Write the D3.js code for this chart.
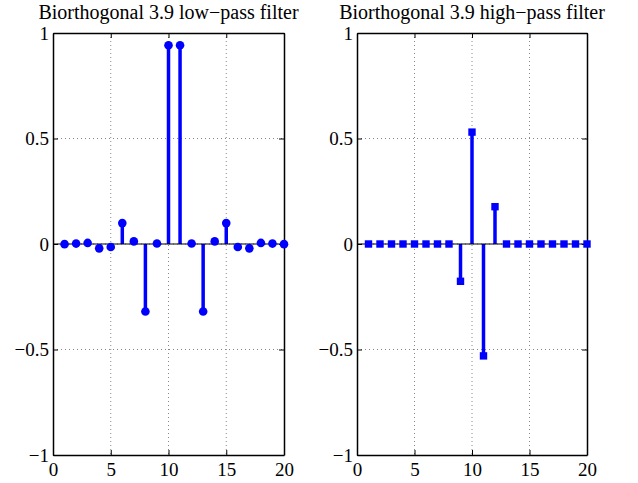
<!DOCTYPE html>
<html>
<head>
<meta charset="utf-8">
<script src="https://cdn.jsdelivr.net/npm/d3@7"></script>
<style>
  body { margin: 0; background: #fff; }
  text { font-family: "Liberation Serif", "DejaVu Serif", serif; fill: #000; }
</style>
</head>
<body>
<div id="chart"></div>
<script>
// filter taps, index 1..20
const taps = d3.range(1, 21)
const lowPass = [-0.0007, 0.0020, 0.0051, -0.0206, -0.0141, 0.0991, 0.0123, -0.3202, 0.0021, 0.9421,
  0.9421, 0.0021, -0.3202, 0.0123, 0.0991, -0.0141, -0.0206, 0.0051, 0.0020, -0.0007]
const highPass = [0, 0, 0, 0, 0, 0, 0, 0, -0.1768, 0.5303,
  -0.5303, 0.1768, 0, 0, 0, 0, 0, 0, 0, 0]
const titles = ['Biorthogonal 3.9 low\u2212pass filter', 'Biorthogonal 3.9 high\u2212pass filter']
const xTicks = [0, 5, 10, 15, 20]
const yTicks = [-1, -0.5, 0, 0.5, 1]
const yTickLabels = ['\u22121', '\u22120.5', '0', '0.5', '1']

const w = 638
const h = 483
const blue = '#0000ff'

const svg = d3.select('#chart')
  .append('svg')
  .attr('width', w)
  .attr('height', h)

const drawPanel = (left, right, values, title, marker) => {
  const top = 33
  const bottom = 455

  const x = d3.scaleLinear().domain([0, 20]).range([left, right])
  const y = d3.scaleLinear().domain([-1, 1]).range([bottom, top])

  const g = svg.append('g')

  // dotted grid
  g.selectAll('.gx')
    .data(xTicks.slice(1, -1))
    .enter()
    .append('line')
    .attr('x1', d => x(d)).attr('x2', d => x(d))
    .attr('y1', top).attr('y2', bottom)
    .attr('stroke', '#888')
    .attr('stroke-width', 1)
    .attr('stroke-dasharray', '1,3')
  g.selectAll('.gy')
    .data(yTicks.slice(1, -1))
    .enter()
    .append('line')
    .attr('x1', left).attr('x2', right)
    .attr('y1', d => y(d)).attr('y2', d => y(d))
    .attr('stroke', '#888')
    .attr('stroke-width', 1)
    .attr('stroke-dasharray', '1,3')

  // axes with inner ticks
  const xAxisB = d3.axisBottom(x).tickValues(xTicks).tickSizeInner(-5).tickSizeOuter(0).tickPadding(8)
  const xAxisT = d3.axisTop(x).tickValues(xTicks).tickSizeInner(-5).tickSizeOuter(0).tickFormat('')
  const yAxisL = d3.axisLeft(y).tickValues(yTicks).tickSizeInner(-5).tickSizeOuter(0).tickPadding(4)
    .tickFormat((d, i) => yTickLabels[i])
  const yAxisR = d3.axisRight(y).tickValues(yTicks).tickSizeInner(-5).tickSizeOuter(0).tickFormat('')

  const axes = [
    g.append('g').attr('transform', 'translate(0,' + bottom + ')').call(xAxisB),
    g.append('g').attr('transform', 'translate(0,' + top + ')').call(xAxisT),
    g.append('g').attr('transform', 'translate(' + left + ',0)').call(yAxisL),
    g.append('g').attr('transform', 'translate(' + right + ',0)').call(yAxisR)
  ]
  axes.forEach(a => {
    a.select('.domain').attr('stroke', '#000').attr('stroke-width', 1.5)
    a.selectAll('.tick line').attr('stroke', '#000')
    a.selectAll('text')
      .style('font-family', '"Liberation Serif", serif')
      .style('font-size', '19px')
      .attr('fill', '#000')
  })

  // stems
  const data = taps.map((t, i) => [t, values[i]])
  g.selectAll('.stem')
    .data(data)
    .enter()
    .append('line')
    .attr('x1', d => x(d[0])).attr('x2', d => x(d[0]))
    .attr('y1', y(0)).attr('y2', d => y(d[1]))
    .attr('stroke', blue)
    .attr('stroke-width', 3.5)

  // baseline
  g.append('line')
    .attr('x1', left).attr('x2', right)
    .attr('y1', y(0)).attr('y2', y(0))
    .attr('stroke', '#000')
    .attr('stroke-width', 1.2)

  if (marker === 'circle') {
    g.selectAll('.mk')
      .data(data)
      .enter()
      .append('circle')
      .attr('cx', d => x(d[0]))
      .attr('cy', d => y(d[1]))
      .attr('r', 4.3)
      .attr('fill', blue)
  } else {
    g.selectAll('.mk')
      .data(data)
      .enter()
      .append('rect')
      .attr('x', d => x(d[0]) - 3.7)
      .attr('y', d => y(d[1]) - 3.7)
      .attr('width', 7.4)
      .attr('height', 7.4)
      .attr('fill', blue)
  }

  svg.append('text')
    .attr('x', (left + right) / 2)
    .attr('y', 19)
    .attr('text-anchor', 'middle')
    .style('font-size', '20px')
    .text(title)
}

drawPanel(53, 284, lowPass, titles[0], 'circle')
drawPanel(357, 587, highPass, titles[1], 'square')
</script>
</body>
</html>
